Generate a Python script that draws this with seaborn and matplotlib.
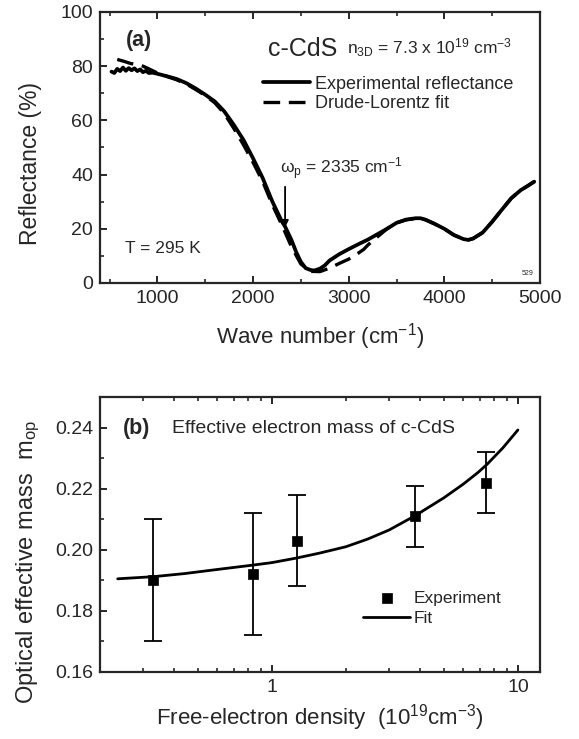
import numpy as np
import pandas as pd
import matplotlib
matplotlib.use("Agg")
import matplotlib.pyplot as plt
import seaborn as sns
from matplotlib.ticker import MultipleLocator, LogLocator, NullFormatter, FixedLocator, FixedFormatter

# ---------------- data: panel (a) ----------------
exp_wn = [520, 550, 580, 610, 640, 670, 700, 730, 760, 790, 820, 850, 880, 910, 950,
          1000, 1100, 1200, 1300, 1400, 1500, 1600, 1700, 1800, 1900, 2000, 2100,
          2200, 2300, 2335, 2400, 2450, 2500, 2550, 2600, 2640, 2700, 2750, 2800,
          2900, 3000, 3100, 3200, 3300, 3400, 3500, 3600, 3700, 3750, 3800, 3900,
          4000, 4100, 4200, 4250, 4300, 4400, 4500, 4600, 4700, 4800, 4870, 4900, 4940]
exp_R = [78.0, 77.5, 79.0, 78.2, 79.5, 78.3, 79.3, 78.5, 79.2, 78.2, 78.8, 77.8, 78.3, 77.5, 77.6,
         77.2, 76.3, 75.3, 73.8, 71.8, 69.5, 67.0, 63.3, 58.3, 52.8, 46.0, 38.8,
         30.2, 22.8, 20.8, 16.0, 11.5, 7.8, 5.5, 4.8, 4.6, 5.3, 6.5, 8.3,
         10.6, 12.5, 14.3, 16.0, 18.0, 20.0, 22.2, 23.4, 23.9, 23.9, 23.4, 21.8,
         20.0, 17.7, 16.2, 15.9, 16.4, 18.6, 22.6, 27.0, 31.3, 34.3, 35.8, 36.5, 37.4]

fit_wn = [580, 650, 720, 800, 850, 900, 1000, 1100, 1200, 1300, 1400, 1500, 1600, 1700,
          1800, 1900, 2000, 2100, 2200, 2300, 2400, 2500, 2600, 2700, 2800, 2900, 3000,
          3100, 3157, 3200, 3300, 3400, 3500, 3600, 3700, 3800, 3900, 4000, 4100, 4200,
          4250, 4300, 4400, 4500, 4600, 4700, 4800, 4870, 4940]
fit_R = [82.5, 81.8, 81.0, 80.5, 80.0, 79.2, 77.5, 76.2, 75.0, 73.5, 71.4, 69.2, 66.5, 62.5,
         57.0, 51.0, 44.5, 37.5, 29.0, 21.5, 13.5, 7.0, 4.3, 4.2, 5.5, 7.2, 8.8,
         11.0, 12.4, 14.0, 17.0, 20.0, 22.2, 23.3, 23.8, 23.4, 21.8, 20.0, 17.7, 16.2,
         15.9, 16.4, 18.6, 22.6, 27.0, 31.3, 34.3, 35.8, 37.4]

omega_p = 2335

# ---------------- data: panel (b) ----------------
n_exp = [0.33, 0.84, 1.26, 3.83, 7.45]
m_exp = [0.190, 0.192, 0.203, 0.211, 0.222]
m_err = [0.020, 0.020, 0.015, 0.010, 0.010]

n_fit = [0.236, 0.33, 0.44, 0.62, 0.84, 1.0, 1.26, 1.56, 2.0, 2.45, 3.0, 3.83,
         5.0, 6.0, 6.86, 7.5, 8.7, 10.0]
m_fit = [0.1905, 0.1912, 0.1922, 0.1937, 0.1950, 0.1958, 0.1973, 0.1989, 0.2010, 0.2035,
         0.2065, 0.2112, 0.2170, 0.2215, 0.2252, 0.2280, 0.2334, 0.2392]

# ---------------- style ----------------
sns.set_style("ticks")
plt.rcParams["font.family"] = ["Liberation Sans", "DejaVu Sans"]
plt.rcParams["mathtext.fontset"] = "custom"
plt.rcParams["mathtext.rm"] = "Liberation Sans"
plt.rcParams["mathtext.it"] = "Liberation Sans:italic"
plt.rcParams["mathtext.default"] = "regular"
plt.rcParams["axes.linewidth"] = 1.6
plt.rcParams["xtick.direction"] = "in"
plt.rcParams["ytick.direction"] = "in"
plt.rcParams["xtick.top"] = True
plt.rcParams["ytick.right"] = False

fig = plt.figure(figsize=(5.79, 7.39), dpi=100)
W, H = 579, 739
axA = fig.add_axes([100 / W, 1 - 283 / H, 440 / W, 271 / H])
axB = fig.add_axes([100 / W, 1 - 672 / H, 440 / W, 275 / H])

# ---------------- panel (a) ----------------
dfE = pd.DataFrame({"wn": exp_wn, "R": exp_R})
dfF = pd.DataFrame({"wn": fit_wn, "R": fit_R})
sns.lineplot(data=dfF, x="wn", y="R", ax=axA, color="black", lw=2.4,
             linestyle=(0, (5, 2.6)), label="Drude-Lorentz fit", sort=False)
sns.lineplot(data=dfE, x="wn", y="R", ax=axA, color="black", lw=2.7,
             label="Experimental reflectance", sort=False)

axA.set_xlim(400, 5000)
axA.set_ylim(0, 100)
axA.xaxis.set_major_locator(MultipleLocator(1000))
axA.xaxis.set_minor_locator(MultipleLocator(500))
axA.yaxis.set_major_locator(MultipleLocator(20))
axA.yaxis.set_minor_locator(MultipleLocator(10))
axA.tick_params(which="major", length=5, width=1.4, labelsize=14, pad=5)
axA.tick_params(which="minor", length=3, width=1.2)
axA.set_xlabel("Wave number (cm$^{-1}$)", fontsize=16)
axA.set_ylabel("Reflectance (%)", fontsize=16.5)
axA.xaxis.set_label_coords(0.5, -0.14)
axA.yaxis.set_label_coords(-0.158, 0.44)
axA.yaxis.label.set_va("center")

h, l = axA.get_legend_handles_labels()
order = [1, 0]
axA.legend([h[i] for i in order], [l[i] for i in order], loc="upper left",
           bbox_to_anchor=(0.37, 0.765), frameon=False, fontsize=13,
           handlelength=2.6, handletextpad=0.3, labelspacing=0.15,
           borderpad=0, borderaxespad=0)

axA.text(0.088, 0.893, "(a)", transform=axA.transAxes, fontsize=15.5,
         fontweight="bold", ha="center", va="center")
axA.text(0.382, 0.865, "c-CdS", transform=axA.transAxes, fontsize=18,
         ha="left", va="center")
axA.text(0.561, 0.868, "n$_{3D}$ = 7.3 x 10$^{19}$ cm$^{-3}$", transform=axA.transAxes,
         fontsize=12.5, ha="left", va="center")
axA.text(0.143, 0.129, "T = 295 K", transform=axA.transAxes, fontsize=12.5,
         ha="center", va="center")
axA.text(0.409, 0.42, "$\\omega_p$ = 2335 cm$^{-1}$", transform=axA.transAxes,
         fontsize=12.5, ha="left", va="center")
axA.annotate("", xy=(omega_p, 20.5), xytext=(omega_p, 35.5),
             arrowprops=dict(arrowstyle="-|>", lw=1.3, color="black",
                             mutation_scale=10, shrinkA=0, shrinkB=0))
axA.text(0.985, 0.035, "529", transform=axA.transAxes, fontsize=5,
         ha="right", va="center")

# ---------------- panel (b) ----------------
axB.set_xscale("log")
dfFit = pd.DataFrame({"n": n_fit, "m": m_fit})
dfExp = pd.DataFrame({"n": n_exp, "m": m_exp})
axB.errorbar(n_exp, m_exp, yerr=m_err, fmt="none", ecolor="black",
             elinewidth=1.3, capsize=6.5, capthick=1.3, zorder=2)
sns.lineplot(data=dfFit, x="n", y="m", ax=axB, color="black", lw=2.0,
             label="Fit", zorder=3)
sns.scatterplot(data=dfExp, x="n", y="m", ax=axB, color="black", marker="s",
                s=50, edgecolor="black", linewidth=0.5, label="Experiment", zorder=4)

axB.set_xlim(0.2, 12.3)
axB.set_ylim(0.16, 0.25)
axB.xaxis.set_major_locator(FixedLocator([1, 10]))
axB.xaxis.set_major_formatter(FixedFormatter(["1", "10"]))
axB.xaxis.set_minor_locator(LogLocator(base=10, subs=np.arange(2, 10), numticks=20))
axB.xaxis.set_minor_formatter(NullFormatter())
axB.yaxis.set_major_locator(MultipleLocator(0.02))
axB.yaxis.set_minor_locator(MultipleLocator(0.01))
axB.yaxis.set_major_formatter(matplotlib.ticker.FormatStrFormatter("%.2f"))
axB.tick_params(which="major", length=5, width=1.4, labelsize=14, pad=5)
axB.tick_params(which="minor", length=3, width=1.2)
axB.set_xlabel("Free-electron density  (10$^{19}$cm$^{-3}$)", fontsize=16)
axB.set_ylabel("Optical effective mass  m$_{op}$", fontsize=17)
axB.xaxis.set_label_coords(0.5, -0.11)
axB.yaxis.set_label_coords(-0.163, 0.40)
axB.yaxis.label.set_va("center")

h, l = axB.get_legend_handles_labels()
axB.legend([h[1], h[0]], [l[1], l[0]], loc="upper left",
           bbox_to_anchor=(0.598, 0.295), frameon=False, fontsize=12.5,
           handlelength=2.7, handletextpad=0.2, labelspacing=0.3,
           borderpad=0, borderaxespad=0)

axB.text(0.084, 0.887, "(b)", transform=axB.transAxes, fontsize=15.5,
         fontweight="bold", ha="center", va="center")
axB.text(0.164, 0.887, "Effective electron mass of c-CdS", transform=axB.transAxes,
         fontsize=14, ha="left", va="center")

for ax in (axA, axB):
    for s in ax.spines.values():
        s.set_visible(True)
        s.set_linewidth(1.6)

fig.savefig("out.png", dpi=100)
